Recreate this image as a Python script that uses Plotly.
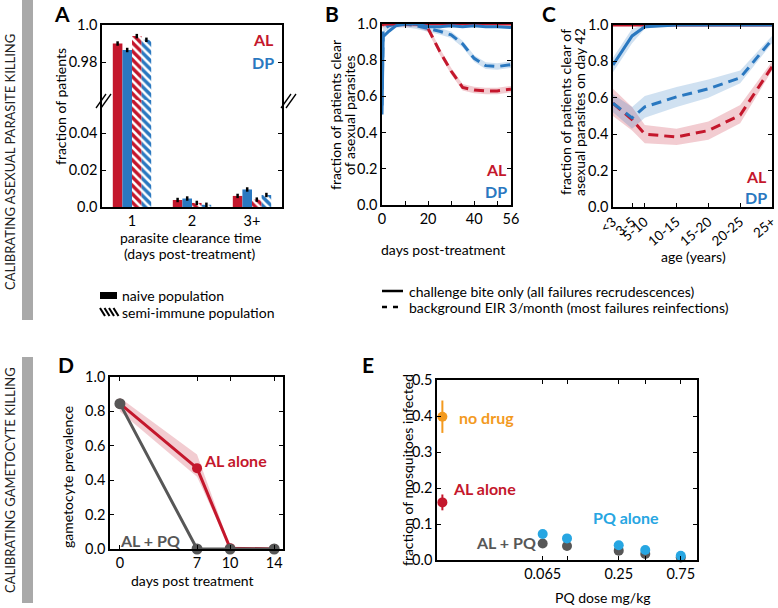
import plotly.graph_objects as go

W, H = 778, 608
FONT = "Lato"
RED = "#c4172c"
BLUE = "#2a78c0"
GRAY = "#575757"
ORANGE = "#f39a1f"
LBLUE = "#27a6e2"
PINK = "rgba(196,23,44,0.22)"
LIGHTBLUE = "rgba(42,120,192,0.22)"

# ---- panel A: parasite clearance time ----
A_CATS = [1, 2, 3]
A_CAT_LABELS = ["1", "2", "3+"]
A_AL_NAIVE = [0.990, 0.0038, 0.0060]
A_DP_NAIVE = [0.9865, 0.0046, 0.0095]
A_AL_SEMI = [0.994, 0.0022, 0.0040]
A_DP_SEMI = [0.992, 0.0012, 0.0065]
A_ERR = [0.0012, 0.0012, 0.0012]

# ---- panel B: clearance over time ----
B_DAYS = [0, 0.5, 3, 6, 10, 15, 20, 25, 30, 35, 40, 45, 50, 56]
B_AL_SOLID = [1.0, 1.0, 1.0, 1.0, 1.0, 1.0, 1.0, 1.0, 1.0, 1.0, 1.0, 1.0, 1.0, 1.0]
B_DP_SOLID = [0.50, 0.93, 0.96, 0.99, 1.0, 1.0, 0.985, 0.985, 0.99, 0.985, 0.99, 0.985, 0.985, 0.98]
B_AL_DASH = [0.99, 1.0, 1.0, 1.0, 1.0, 1.0, 0.975, 0.85, 0.74, 0.65, 0.635, 0.63, 0.63, 0.64]
B_DP_DASH = [0.55, 0.97, 0.99, 1.0, 1.0, 0.99, 0.975, 0.96, 0.94, 0.89, 0.81, 0.77, 0.765, 0.775]
B_BAND = 0.018

# ---- panel C: clearance by age on day 42 ----
C_AGE = [0, 3, 5, 10, 15, 20, 25]
C_AGE_LABELS = ["<3", "3-5", "5-10", "10-15", "15-20", "20-25", "25+"]
C_AL_SOLID = [1.0, 1.0, 1.0, 1.0, 1.0, 1.0, 1.0]
C_DP_SOLID = [0.78, 0.94, 0.99, 1.0, 1.0, 1.0, 1.0]
C_DP_SOLID_LO = [0.74, 0.90, 0.98, 1.0, 1.0, 1.0, 1.0]
C_DP_SOLID_HI = [0.82, 0.98, 1.0, 1.0, 1.0, 1.0, 1.0]
C_AL_DASH = [0.57, 0.48, 0.40, 0.385, 0.42, 0.505, 0.77]
C_AL_DASH_LO = [0.50, 0.42, 0.35, 0.34, 0.37, 0.46, 0.75]
C_AL_DASH_HI = [0.65, 0.55, 0.45, 0.43, 0.47, 0.56, 0.80]
C_DP_DASH = [0.57, 0.49, 0.55, 0.605, 0.65, 0.71, 0.92]
C_DP_DASH_LO = [0.52, 0.43, 0.49, 0.55, 0.60, 0.68, 0.90]
C_DP_DASH_HI = [0.62, 0.55, 0.61, 0.66, 0.70, 0.75, 0.94]

# ---- panel D: gametocyte prevalence ----
D_DAYS = [0, 7, 10, 14]
D_AL = [0.845, 0.47, 0.005, 0.0]
D_AL_LO = [0.80, 0.42, 0.0, 0.0]
D_AL_HI = [0.88, 0.55, 0.015, 0.005]
D_ALPQ = [0.845, 0.0, 0.0, 0.0]

# ---- panel E: mosquito infection ----
E_DOSE = [0.065, 0.1, 0.25, 0.4, 0.75]
E_PQ_ALONE = [0.072, 0.060, 0.041, 0.028, 0.012]
E_AL_PQ = [0.046, 0.039, 0.026, 0.017, 0.007]
E_NO_PQ_X = 0.011
E_NO_DRUG = 0.398
E_NO_DRUG_ERR = 0.045
E_AL_ALONE = 0.16
E_AL_ALONE_ERR = 0.022


def px(x):
    return x / W


def py(y):
    return 1 - y / H


fig = go.Figure()

# panel A bars, drawn on both halves of the broken axis
bar_specs = [
    (A_AL_NAIVE, RED, False),
    (A_DP_NAIVE, BLUE, False),
    (A_AL_SEMI, RED, True),
    (A_DP_SEMI, BLUE, True),
]
for xa, ya in [("x", "y"), ("x2", "y2")]:
    for vals, col, hatched in bar_specs:
        marker = dict(color=col, line=dict(width=0))
        if hatched:
            marker["pattern"] = dict(shape="\\", fillmode="overlay", fgcolor="white",
                                     fgopacity=1, size=6, solidity=0.42)
        fig.add_trace(go.Bar(
            x=A_CATS, y=vals, xaxis=xa, yaxis=ya, marker=marker,
            error_y=dict(type="data", array=A_ERR, color="black",
                         thickness=2.5, width=0),
            showlegend=False, hoverinfo="skip"))


def band(xs, lo, hi, fillcol, xa, ya):
    fig.add_trace(go.Scatter(x=xs, y=lo, xaxis=xa, yaxis=ya, mode="lines",
                             line=dict(width=0), showlegend=False, hoverinfo="skip"))
    fig.add_trace(go.Scatter(x=xs, y=hi, xaxis=xa, yaxis=ya, mode="lines",
                             line=dict(width=0), fill="tonexty", fillcolor=fillcol,
                             showlegend=False, hoverinfo="skip"))


def line(xs, ys, col, dash, xa, ya, width=3):
    fig.add_trace(go.Scatter(x=xs, y=ys, xaxis=xa, yaxis=ya, mode="lines",
                             line=dict(color=col, width=width, dash=dash),
                             showlegend=False, hoverinfo="skip", cliponaxis=False))


# panel B
band(B_DAYS, [v - B_BAND for v in B_AL_DASH], [v + B_BAND for v in B_AL_DASH], PINK, "x3", "y3")
band(B_DAYS, [v - B_BAND for v in B_DP_DASH], [v + B_BAND for v in B_DP_DASH], LIGHTBLUE, "x3", "y3")
line(B_DAYS, B_AL_DASH, RED, "10px,6px", "x3", "y3")
line(B_DAYS, B_DP_DASH, BLUE, "10px,6px", "x3", "y3")
line(B_DAYS, B_AL_SOLID, RED, "solid", "x3", "y3")
line(B_DAYS, B_DP_SOLID, BLUE, "solid", "x3", "y3")

# panel C
band(C_AGE, C_AL_DASH_LO, C_AL_DASH_HI, PINK, "x4", "y4")
band(C_AGE, C_DP_DASH_LO, C_DP_DASH_HI, LIGHTBLUE, "x4", "y4")
band(C_AGE, C_DP_SOLID_LO, C_DP_SOLID_HI, LIGHTBLUE, "x4", "y4")
line(C_AGE, C_AL_DASH, RED, "10px,6px", "x4", "y4")
line(C_AGE, C_DP_DASH, BLUE, "10px,6px", "x4", "y4")
line(C_AGE, C_AL_SOLID, RED, "solid", "x4", "y4")
line(C_AGE, C_DP_SOLID, BLUE, "solid", "x4", "y4")

# panel D
band(D_DAYS, D_AL_LO, D_AL_HI, PINK, "x5", "y5")
fig.add_trace(go.Scatter(x=D_DAYS, y=D_AL, xaxis="x5", yaxis="y5", mode="lines+markers",
                         line=dict(color=RED, width=3), marker=dict(size=10, color=RED),
                         showlegend=False, cliponaxis=False))
fig.add_trace(go.Scatter(x=D_DAYS, y=D_ALPQ, xaxis="x5", yaxis="y5", mode="lines+markers",
                         line=dict(color=GRAY, width=3), marker=dict(size=11, color=GRAY),
                         showlegend=False, cliponaxis=False))

# panel E
fig.add_trace(go.Scatter(x=[E_NO_PQ_X], y=[E_NO_DRUG], xaxis="x6", yaxis="y6", mode="markers",
                         marker=dict(size=10, color=ORANGE),
                         error_y=dict(type="constant", value=E_NO_DRUG_ERR, color=ORANGE,
                                      thickness=2, width=0),
                         showlegend=False, cliponaxis=False))
fig.add_trace(go.Scatter(x=[E_NO_PQ_X], y=[E_AL_ALONE], xaxis="x6", yaxis="y6", mode="markers",
                         marker=dict(size=10, color=RED),
                         error_y=dict(type="constant", value=E_AL_ALONE_ERR, color=RED,
                                      thickness=2, width=0),
                         showlegend=False, cliponaxis=False))
fig.add_trace(go.Scatter(x=E_DOSE, y=E_AL_PQ, xaxis="x6", yaxis="y6", mode="markers",
                         marker=dict(size=10, color=GRAY), showlegend=False, cliponaxis=False))
fig.add_trace(go.Scatter(x=E_DOSE, y=E_PQ_ALONE, xaxis="x6", yaxis="y6", mode="markers",
                         marker=dict(size=10, color=LBLUE), showlegend=False, cliponaxis=False))

tickfont = dict(family=FONT, size=14.5, color="black")


def ax(**kw):
    base = dict(showline=True, linecolor="black", linewidth=1.5, ticks="inside",
                ticklen=4, tickcolor="black", tickwidth=1.2, showgrid=False,
                zeroline=False, tickfont=tickfont, mirror="ticks", automargin=False,
                ticklabeloverflow="allow")
    base.update(kw)
    return base


YFRAC_VALS = [0, 0.2, 0.4, 0.6, 0.8, 1.0]
YFRAC_TEXT = ["0.0", "0.2", "0.4", "0.6", "0.8", "1.0"]

fig.update_layout(
    width=W, height=H, margin=dict(l=0, r=0, t=0, b=0, autoexpand=False),
    plot_bgcolor="white", paper_bgcolor="white",
    font=dict(family=FONT, size=14, color="black"),
    barmode="group", bargap=0.36, bargroupgap=0,
    showlegend=False,
    # A lower and upper halves
    xaxis=dict(domain=[px(102), px(282)], range=[0.5, 3.5], anchor="y",
               tickvals=A_CATS, ticktext=A_CAT_LABELS, showline=True,
               linecolor="black", linewidth=1.5, ticks="", showgrid=False,
               zeroline=False, tickfont=tickfont, automargin=False),
    xaxis2=dict(domain=[px(102), px(282)], range=[0.5, 3.5], anchor="y2",
                matches="x", side="top", showticklabels=False, showline=True,
                linecolor="black", linewidth=1.5, ticks="", showgrid=False,
                zeroline=False, automargin=False),
    yaxis=ax(domain=[py(207), py(100)], range=[0, 0.058], anchor="x",
             tickvals=[0, 0.02, 0.04], ticktext=["0.0", "0.02", "0.04"]),
    yaxis2=ax(domain=[py(100), py(25)], range=[0.9595, 1.0], anchor="x2",
              tickvals=[0.98, 1.0], ticktext=["0.98", "1.0"]),
    # B
    xaxis3=ax(domain=[px(382), px(511)], range=[0, 56], anchor="y3",
              tickvals=[0, 20, 40, 56], ticktext=["0", "20", "40", "56"],
              minor=dict(ticks="inside", dtick=10, tick0=0, ticklen=4, tickcolor="black")),
    yaxis3=ax(domain=[py(205), py(24)], range=[0, 1.0], anchor="x3",
              tickvals=YFRAC_VALS, ticktext=YFRAC_TEXT),
    # C
    xaxis4=ax(domain=[px(613), px(772)], range=[0, 25], anchor="y4",
              tickvals=C_AGE, ticktext=C_AGE_LABELS, tickangle=-40,
              tickfont=dict(family=FONT, size=13.5, color="black")),
    yaxis4=ax(domain=[py(207), py(25)], range=[0, 1.0], anchor="x4",
              tickvals=YFRAC_VALS, ticktext=YFRAC_TEXT),
    # D
    xaxis5=ax(domain=[px(110), px(283)], range=[-0.9, 14.8], anchor="y5",
              tickvals=D_DAYS, ticktext=["0", "7", "10", "14"]),
    yaxis5=ax(domain=[py(549), py(377)], range=[0, 1.0], anchor="x5",
              tickvals=YFRAC_VALS, ticktext=YFRAC_TEXT),
    # E
    xaxis6=ax(domain=[px(437), px(697)], type="log", range=[-2, 0], anchor="y6",
              tickvals=E_DOSE, ticktext=["0.065", "", "0.25", "", "0.75"]),
    yaxis6=ax(domain=[py(560), py(380)], range=[0, 0.5], anchor="x6",
              tickvals=[0, 0.1, 0.2, 0.3, 0.4, 0.5],
              ticktext=["0.0", "0.1", "0.2", "0.3", "0.4", "0.5"]),
)

shapes = []
# side bars
shapes.append(dict(type="rect", xref="paper", yref="paper", x0=px(22), x1=px(33),
                   y0=py(320), y1=py(0), fillcolor="#a9a9a9", line=dict(width=0)))
shapes.append(dict(type="rect", xref="paper", yref="paper", x0=px(22), x1=px(33),
                   y0=py(603), y1=py(357), fillcolor="#a9a9a9", line=dict(width=0)))
# axis break marks in A
for xb in (96, 281):
    for off in (0, 5):
        shapes.append(dict(type="line", xref="paper", yref="paper",
                           x0=px(xb + off), y0=py(108), x1=px(xb + off + 10), y1=py(94),
                           line=dict(color="black", width=1.3)))
# A legend swatches
shapes.append(dict(type="rect", xref="paper", yref="paper", x0=px(100), x1=px(117),
                   y0=py(299), y1=py(292), fillcolor="black", line=dict(width=0)))
for k in range(4):
    x0 = 100 + k * 4.5
    shapes.append(dict(type="line", xref="paper", yref="paper",
                       x0=px(x0), y0=py(308), x1=px(x0 + 5), y1=py(316),
                       line=dict(color="black", width=2)))
# B/C legend swatches
shapes.append(dict(type="line", xref="paper", yref="paper", x0=px(382), x1=px(403),
                   y0=py(291), y1=py(291), line=dict(color="black", width=2.5)))
shapes.append(dict(type="line", xref="paper", yref="paper", x0=px(382), x1=px(403),
                   y0=py(307), y1=py(307), line=dict(color="black", width=2.5, dash="5px,6px")))
fig.update_layout(shapes=shapes)


def note(x, y, text, size=14, color="black", bold=False, angle=0, xanchor="center",
         yanchor="middle", align="center"):
    if bold:
        text = "<b>" + text + "</b>"
    fig.add_annotation(x=px(x), y=py(y), xref="paper", yref="paper", text=text,
                       showarrow=False, textangle=angle, xanchor=xanchor, yanchor=yanchor,
                       align=align, borderpad=0,
                       font=dict(family=FONT, size=size, color=color))


# side titles
note(10, 162, "CALIBRATING ASEXUAL PARASITE KILLING", size=13, angle=-90, color="#222")
note(10, 480, "CALIBRATING GAMETOCYTE KILLING", size=13, angle=-90, color="#222")

# panel letters
for letter, x, y in [("A", 62, 13), ("B", 332, 13), ("C", 549, 13), ("D", 66, 364), ("E", 368, 364)]:
    note(x, y, letter, size=21, bold=True)

# A
note(60, 107, "fraction of patients", angle=-90)
note(190, 237, "parasite clearance time")
note(190, 253, "(days post-treatment)")
note(275, 40, "AL", size=16, color=RED, bold=True, xanchor="right")
note(275, 62, "DP", size=16, color=BLUE, bold=True, xanchor="right")
note(121, 295, "naive population", xanchor="left")
note(121, 312, "semi-immune population", xanchor="left")

# B
note(335, 115, "fraction of patients clear", angle=-90)
note(349, 115, "of asexual parasites", angle=-90)
note(443, 250, "days post-treatment")
note(508, 170, "AL", size=16, color=RED, bold=True, xanchor="right")
note(508, 191, "DP", size=16, color=BLUE, bold=True, xanchor="right")

# C
note(565, 112, "fraction of patients clear of", angle=-90)
note(579, 112, "asexual parasites on day 42", angle=-90)
note(693, 256, "age (years)")
note(768, 176, "AL", size=16, color=RED, bold=True, xanchor="right")
note(768, 197, "DP", size=16, color=BLUE, bold=True, xanchor="right")

# B/C legend
note(408, 291, "challenge bite only (all failures recrudescences)", xanchor="left")
note(408, 307, "background EIR 3/month (most failures reinfections)", xanchor="left")

# D
note(67, 477, "gametocyte prevalence", angle=-90)
note(192, 580, "days post treatment")
note(235, 460, "AL alone", size=16, color=RED, bold=True)
note(150, 540, "AL + PQ", size=16, color=GRAY, bold=True)

# E
note(407, 470, "fraction of mosquitoes infected", angle=-90)
note(603, 597, "PQ dose mg/kg")
note(458, 417, "no drug", size=16, color=ORANGE, bold=True, xanchor="left")
note(452, 488, "AL alone", size=16, color=RED, bold=True, xanchor="left")
note(592, 517, "PQ alone", size=16, color=LBLUE, bold=True, xanchor="left")
note(475, 542, "AL + PQ", size=16, color=GRAY, bold=True, xanchor="left")
fig.add_annotation(x=E_NO_PQ_X, xref="x6", y=py(567), yref="paper", text="no PQ",
                   showarrow=True, ax=0, ay=34, arrowhead=2, arrowsize=1, arrowwidth=2,
                   arrowcolor="black", font=dict(family=FONT, size=14, color="black"))

# the page body has a default 8px margin; drop it so the figure fills the window
fig.write_html("out.html", config={"displayModeBar": False},
               post_script="document.body.style.margin='0';")
